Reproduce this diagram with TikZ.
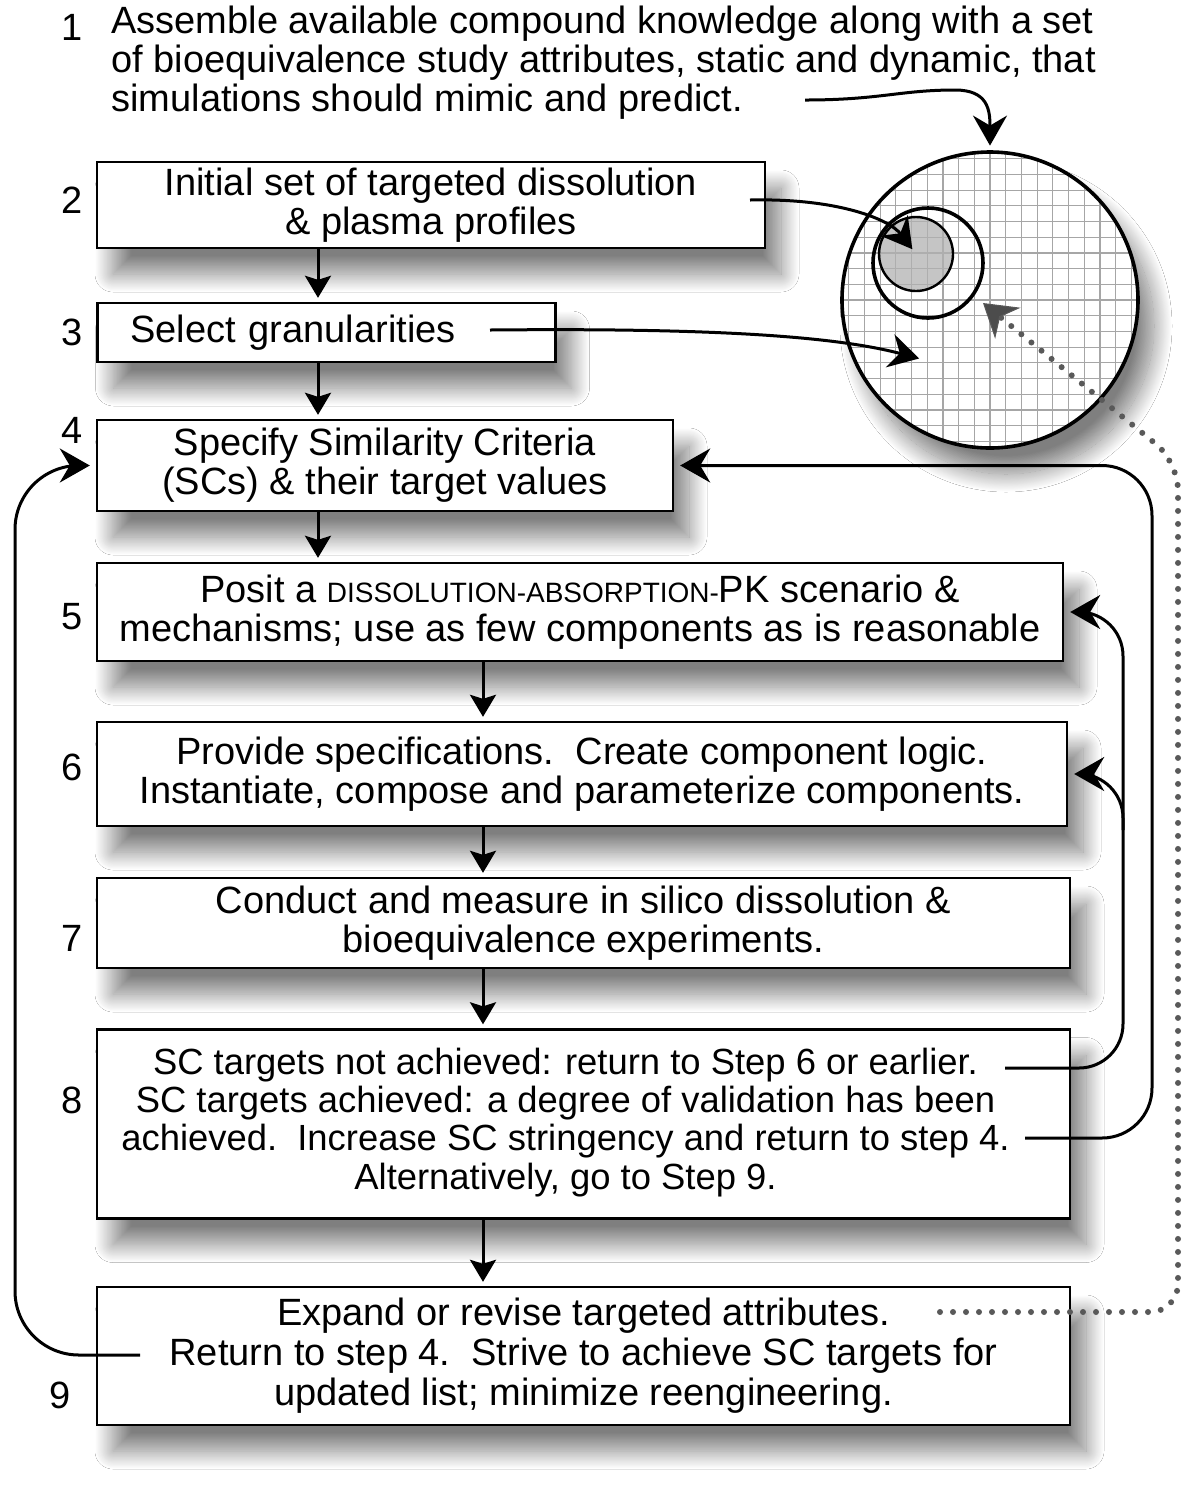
\documentclass[tikz,border=0pt]{standalone}
\usepackage{fontspec}
\setmainfont{Liberation Sans}
\usetikzlibrary{
  arrows.meta,
  calc,
  shadows.blur,
  positioning}
% fake small caps (Liberation Sans has none)
\newcommand{\fakesc}[1]{{\fontsize{14}{14}\selectfont #1}}
\tikzset{
  softshadow/.style={%
    blur shadow={shadow xshift=8pt, shadow yshift=-13pt,
      shadow blur radius=9pt, shadow blur steps=30, shadow opacity=50}
  },
  stepbox/.style={%
    fill=white,
    draw=black, line width=1.2pt,
    inner sep=0pt,
    align=center,
    softshadow
  },
  stepnum/.style={%
    inner sep=0pt
  },
  gridline/.style={%
    draw=black!35, line width=0.6pt
  },
  arrowD/.style={%
    line width=1.5pt, shorten >=2pt,
    -{Stealth[length=11pt,width=13pt,inset=2pt]}
  },
  arrowF/.style={%
    line width=1.5pt, shorten >=3pt,
    -{Stealth[length=15pt,width=17pt,inset=5pt]}
  },
  arrowG/.style={%
    draw=black!65, line width=3pt, line cap=round,
    dash pattern=on 0pt off 6.5pt,
    -{Stealth[length=16pt,width=20pt,inset=5pt,fill=black!70,line width=0.5pt]}
  }%
}

\begin{document}
\begin{tikzpicture}[x=0.5pt,y=-0.5pt,font=\fontsize{19}{19.5}\selectfont]
\useasboundingbox[fill=white] (0,0) rectangle (1200,1496);

% step numbers down the left margin
\node[stepnum] (num1) at (72,27) {1};
\node[stepnum] (num2) at (72,200) {2};
\node[stepnum] (num3) at (72,332) {3};
\node[stepnum] (num4) at (72,430) {4};
\node[stepnum] (num5) at (72,617) {5};
\node[stepnum] (num6) at (72,767) {6};
\node[stepnum] (num7) at (72,938) {7};
\node[stepnum] (num8) at (72,1100) {8};
\node[stepnum] (num9) at (60,1395) {9};

% step 1 has no box
\node[anchor=west, align=left, inner sep=0pt] (step1) at (111,63)
  {Assemble available compound knowledge along with a set\\
   of bioequivalence study attributes, static and dynamic, that\\
   simulations should mimic and predict.};

% the boxes, top to bottom
\node[stepbox, minimum width=334pt, minimum height=43pt] (box2) at (431,205)
  {Initial set of targeted dissolution\\ \& plasma profiles};
\node[stepbox, minimum height=29.5pt, text width=196pt, align=left,
  inner xsep=16.5pt] (box3) at (326.5,332.5) {Select granularities};
\node[stepbox, minimum width=288pt, minimum height=45.5pt] (box4) at (385,465.5)
  {Specify Similarity Criteria\\(SCs) \& their target values};
\node[stepbox, minimum width=483pt, minimum height=49pt] (box5) at (580,612)
  {Posit a \fakesc{DISSOLUTION-ABSORPTION-}PK scenario \&\\
   mechanisms; use as few components as is reasonable};
\node[stepbox, minimum width=485pt, minimum height=52pt] (box6) at (582,774)
  {Provide specifications.\ \ Create component logic.\\
   Instantiate, compose and parameterize components.};
\node[stepbox, minimum width=486.5pt, minimum height=45pt] (box7) at (583.5,923)
  {Conduct and measure in silico dissolution \&\\
   bioequivalence experiments.};
% text in box 8 sits a little left of centre
\node[stepbox, minimum width=486.5pt, minimum height=94.5pt,
  font=\fontsize{18.2}{19.2}\selectfont] (box8) at (583.5,1124)
  {\hspace*{-9pt}\begin{tabular}{@{}c@{}}
   SC targets not achieved: return to Step 6 or earlier.\\
   SC targets achieved: a degree of validation has been\\
   achieved.\ \ Increase SC stringency and return to step 4.\\
   Alternatively, go to Step 9.
   \end{tabular}\hspace*{9pt}};
\node[stepbox, minimum width=486.5pt, minimum height=69pt,
  font=\fontsize{19}{20}\selectfont] (box9) at (583.5,1356)
  {Expand or revise targeted attributes.\\
   Return to step 4.\ \ Strive to achieve SC targets for\\
   updated list; minimize reengineering.};

% the attribute space: grid disc, ring and core
\node[circle, fill=white, minimum size=148pt, inner sep=0pt, softshadow] (world) at (990,300) {};
\begin{scope}
  \clip (world.center) circle[radius=74pt];
  \foreach \k in {-10,...,10} {
    \draw[gridline] ($(world.center)+(\k*15.7,-160)$) -- ($(world.center)+(\k*15.7,160)$);
    \draw[gridline] ($(world.center)+(-160,\k*15.7)$) -- ($(world.center)+(160,\k*15.7)$);
  }
\end{scope}
\draw[line width=1.8pt] (world.center) circle[radius=74pt];
\node[circle, draw, line width=1.8pt, minimum size=55pt, inner sep=0pt] (ring) at (928,263) {};
\node[circle, draw, line width=1.2pt, fill=black!30, fill opacity=0.75,
  minimum size=37pt, inner sep=0pt] (core) at (916,254) {};

% columns of the downward arrows
\coordinate (colA) at (318,0);
\coordinate (colB) at (483,0);
\draw[arrowD] (box2.south -| colA) -- (box3.north -| colA);
\draw[arrowD] (box3.south -| colA) -- (box4.north -| colA);
\draw[arrowD] (box4.south -| colA) -- (box5.north -| colA);
\draw[arrowD] (box5.south -| colB) -- (box6.north -| colB);
\draw[arrowD] (box6.south -| colB) -- (box7.north -| colB);
\draw[arrowD] (box7.south -| colB) -- (box8.north -| colB);
\draw[arrowD] (box8.south -| colB) -- (box9.north -| colB);

% arrows into the attribute space
\coordinate (s1) at (805,100);
\coordinate (s2) at (750,200);
\coordinate (s3) at (490,330);
\coordinate (g3) at (925,360);
\draw[arrowF] (s1) .. controls (880,100) and (900,90) .. (955,90)
  .. controls (988,90) and (990,110) .. (world.north);
\draw[arrowF] (s2) .. controls (840,198) and (890,220) .. (core.center);
\draw[arrowF] (s3) .. controls (700,328) and (830,335) .. (g3);

% feedback loops
\coordinate (s8a) at (1005,1068);
\coordinate (s8b) at (1025,1138);
\coordinate (s9) at (140,1355);
\coordinate (railA) at (1123,0);
\coordinate (railB) at (1152,0);
\coordinate (railC) at (15,0);
\coordinate (j6) at (1123,830);
\draw[arrowF, rounded corners=22] (s8a) -- (s8a -| railA) -- (railA |- box5.east) -- (box5.east);
\draw[arrowF, rounded corners=22] (j6) -- (railA |- box6.east) -- (box6.east);
\draw[arrowF, rounded corners=25] (s8b) -- (s8b -| railB) -- (railB |- box4.east) -- (box4.east);
\draw[arrowF, rounded corners=32] (s9) -- (s9 -| railC) -- (railC |- box4.west) -- (box4.west);

% dotted return from step 9 to the space
\coordinate (d9) at (940,1312);
\coordinate (g9) at (983,303);
\draw[arrowG, rounded corners=14] (d9) -- (1178,1312) -- (1178,462) -- (g9);

\end{tikzpicture}
\end{document}
